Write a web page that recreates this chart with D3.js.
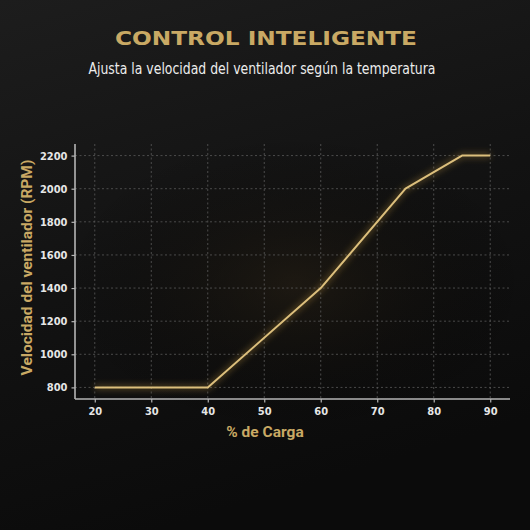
<!DOCTYPE html>
<html>
<head>
<meta charset="utf-8">
<script src="https://cdn.jsdelivr.net/npm/d3@7"></script>
<style>
  html, body { margin: 0; padding: 0; background: #101010; }
  svg { display: block; }
</style>
</head>
<body>
<div id="chart"></div>
<script>
// DATA
const cargaValues = [20, 40, 60, 75, 85, 90]
const rpmValues = [800, 800, 1400, 2000, 2200, 2200]
const xTickValues = [20, 30, 40, 50, 60, 70, 80, 90]
const yTickValues = [800, 1000, 1200, 1400, 1600, 1800, 2000, 2200]

const titleText = "CONTROL INTELIGENTE"
const subtitleText = "Ajusta la velocidad del ventilador según la temperatura"
const xLabelText = "% de Carga"
const yLabelText = "Velocidad del ventilador (RPM)"

// Colours
const gold = "#c9a964"
const lineGold = "#dcbf7c"
const gridColor = "#5a5a5a"
const spineColor = "#b5b5b5"

const width = 530
const height = 530
const margin = { top: 144, right: 20, bottom: 131, left: 75 }
const gWidth = width - margin.left - margin.right
const gHeight = height - margin.top - margin.bottom

const svg = d3.select("#chart").append("svg")
  .attr("width", width).attr("height", height)

const defs = svg.append("defs")
const bg = defs.append("linearGradient").attr("id", "bg")
  .attr("x1", "0").attr("y1", "0").attr("x2", "0.3").attr("y2", "1")
bg.append("stop").attr("offset", "0%").attr("stop-color", "#1d1d1d")
bg.append("stop").attr("offset", "55%").attr("stop-color", "#121212")
bg.append("stop").attr("offset", "100%").attr("stop-color", "#0b0b0b")

const warm = defs.append("radialGradient").attr("id", "warm")
  .attr("cx", "0.5").attr("cy", "0.55").attr("r", "0.5")
warm.append("stop").attr("offset", "0%").attr("stop-color", "#2a2113").attr("stop-opacity", 0.5)
warm.append("stop").attr("offset", "100%").attr("stop-color", "#000").attr("stop-opacity", 0)

const glow = defs.append("filter").attr("id", "glow")
  .attr("x", "-20%").attr("y", "-20%").attr("width", "140%").attr("height", "140%")
glow.append("feGaussianBlur").attr("stdDeviation", 3)

svg.append("rect").attr("width", width).attr("height", height).attr("fill", "url(#bg)")
svg.append("rect").attr("x", 60).attr("y", 120).attr("width", 470).attr("height", 300)
  .attr("fill", "url(#warm)")

// Title + subtitle
svg.append("text")
  .attr("x", 266).attr("y", 45)
  .attr("text-anchor", "middle")
  .attr("textLength", 302).attr("lengthAdjust", "spacingAndGlyphs")
  .style("font-family", "'DejaVu Sans', sans-serif")
  .style("font-weight", "bold")
  .style("font-size", "20px")
  .attr("fill", gold)
  .text(titleText)

svg.append("text")
  .attr("x", 262).attr("y", 74)
  .attr("text-anchor", "middle")
  .attr("textLength", 347).attr("lengthAdjust", "spacingAndGlyphs")
  .style("font-family", "'DejaVu Sans Condensed', 'Roboto', sans-serif")
  .style("font-size", "15.5px")
  .attr("fill", "#ececec")
  .text(subtitleText)

const graph = svg.append("g").attr("transform", `translate(${margin.left}, ${margin.top})`)

// Scales (5% padding like the original)
const xScale = d3.scaleLinear().domain([16.5, 93.5]).range([0, gWidth])
const yScale = d3.scaleLinear().domain([730, 2270]).range([gHeight, 0])

// Grid
graph.append("g").selectAll("line").data(xTickValues).join("line")
  .attr("x1", d => xScale(d)).attr("x2", d => xScale(d))
  .attr("y1", 0).attr("y2", gHeight)
  .attr("stroke", gridColor).attr("stroke-width", 0.8).attr("stroke-dasharray", "2,2.5")
graph.append("g").selectAll("line").data(yTickValues).join("line")
  .attr("x1", 0).attr("x2", gWidth)
  .attr("y1", d => yScale(d)).attr("y2", d => yScale(d))
  .attr("stroke", gridColor).attr("stroke-width", 0.8).attr("stroke-dasharray", "2,2.5")

// Axes
const xAxis = graph.append("g").attr("transform", `translate(0, ${gHeight})`)
  .call(d3.axisBottom(xScale).tickValues(xTickValues).tickFormat(d3.format("d")).tickSize(3.5).tickPadding(5))
const yAxis = graph.append("g")
  .call(d3.axisLeft(yScale).tickValues(yTickValues).tickFormat(d3.format("d")).tickSize(3.5).tickPadding(4))

;[xAxis, yAxis].forEach(ax => {
  ax.select(".domain").attr("stroke", spineColor).attr("stroke-width", 1.6)
  ax.selectAll(".tick line").attr("stroke", spineColor).attr("stroke-width", 1.2)
  ax.selectAll(".tick text")
    .attr("fill", "#e6e6e6")
    .style("font-family", "'DejaVu Sans Condensed', sans-serif")
    .style("font-weight", "bold")
    .style("font-size", "11px")
})
// Spines run through the full extent (no outer tick caps)
xAxis.select(".domain").attr("d", `M0,0H${gWidth}`)
yAxis.select(".domain").attr("d", `M0,0V${gHeight}`)

// Line
const points = cargaValues.map((c, i) => ({ carga: c, rpm: rpmValues[i] }))
const line = d3.line().x(d => xScale(d.carga)).y(d => yScale(d.rpm))

graph.append("path").datum(points)
  .attr("d", line)
  .attr("fill", "none")
  .attr("stroke", "#c79a42")
  .attr("stroke-width", 5)
  .attr("stroke-opacity", 0.35)
  .attr("filter", "url(#glow)")
graph.append("path").datum(points)
  .attr("d", line)
  .attr("fill", "none")
  .attr("stroke", lineGold)
  .attr("stroke-width", 2)
  .attr("stroke-linejoin", "round")

// Axis labels
svg.append("text")
  .attr("x", 265).attr("y", 437)
  .attr("text-anchor", "middle")
  .style("font-family", "'Roboto', sans-serif")
  .style("font-weight", "bold")
  .style("font-size", "15.5px")
  .attr("fill", gold)
  .text(xLabelText)

svg.append("text")
  .attr("transform", `translate(32, ${margin.top + gHeight / 2 - 4}) rotate(-90)`)
  .attr("text-anchor", "middle")
  .style("font-family", "'Roboto', sans-serif")
  .style("font-weight", "bold")
  .style("font-size", "15.5px")
  .attr("fill", gold)
  .text(yLabelText)
</script>
</body>
</html>
